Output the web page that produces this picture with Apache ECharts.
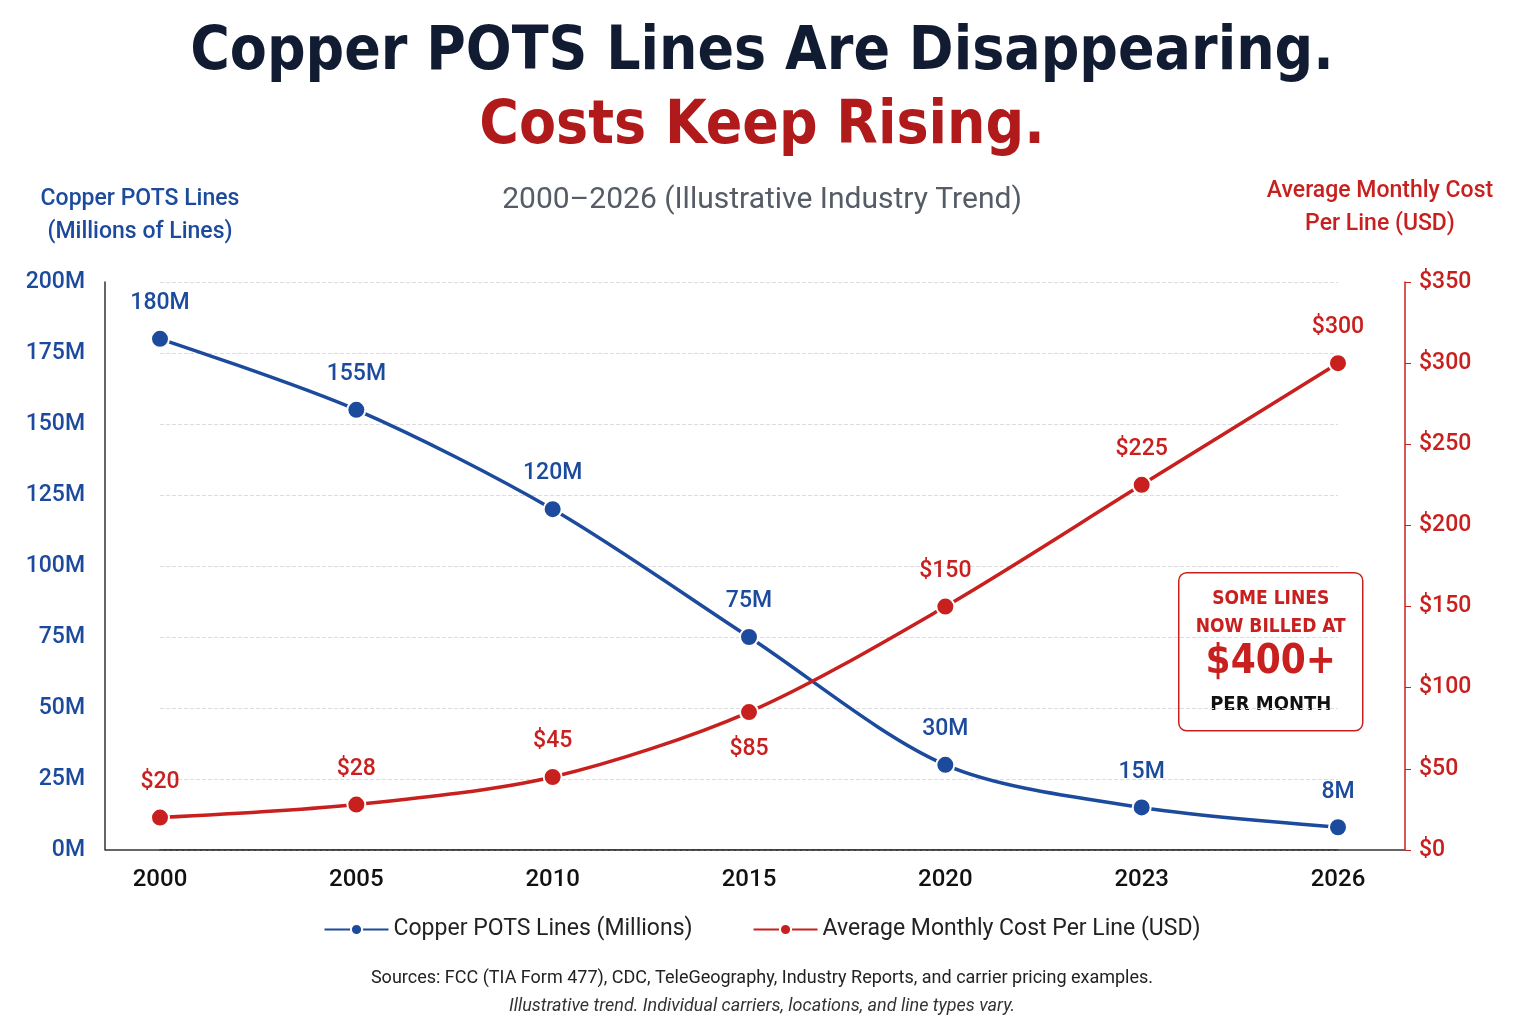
<!DOCTYPE html>
<html><head><meta charset="utf-8">
<script src="https://cdn.jsdelivr.net/npm/echarts@6/dist/echarts.min.js"></script>
<style>html,body{margin:0;background:#fff}#c{width:1524px;height:1028px}</style>
</head><body><div id="c"></div>
<script>
const years = ['2000','2005','2010','2015','2020','2023','2026'];
const linesM = [180,155,120,75,30,15,8];
const costUSD = [20,28,45,85,150,225,300];
const BLUE='#1c4a9c', RED='#c8201e';
const COND='"DejaVu Sans Condensed", "DejaVu Sans"';
const chart = echarts.init(document.getElementById('c'));
chart.setOption({
  backgroundColor:'#fff',
  animation:false,
  title:[
    {text:'Copper POTS Lines Are Disappearing.',left:'center',top:18,textStyle:{fontFamily:COND,fontWeight:'bold',fontSize:60,color:'#111c33'}},
    {text:'Costs Keep Rising.',left:'center',top:92,textStyle:{fontFamily:COND,fontWeight:'bold',fontSize:60,color:'#b01a1a'}},
    {text:'2000–2026 (Illustrative Industry Trend)',left:'center',top:180,textStyle:{fontFamily:'Roboto',fontWeight:'normal',fontSize:30,color:'#555c66'}},
    {text:'Copper POTS Lines\n(Millions of Lines)',left:135,top:178,textAlign:'center',textStyle:{fontFamily:'Roboto',fontWeight:'500',fontSize:23,lineHeight:33,color:BLUE}},
    {text:'Average Monthly Cost\nPer Line (USD)',left:1375,top:170,textAlign:'center',textStyle:{fontFamily:'Roboto',fontWeight:'500',fontSize:23,lineHeight:33,color:RED}},
    {text:'Sources: FCC (TIA Form 477), CDC, TeleGeography, Industry Reports, and carrier pricing examples.',left:'center',top:964,textStyle:{fontFamily:'Roboto',fontWeight:'normal',fontSize:18,color:'#222'}},
    {text:'Illustrative trend. Individual carriers, locations, and line types vary.',left:'center',top:992,textStyle:{fontFamily:'Roboto',fontWeight:'normal',fontStyle:'italic',fontSize:18,color:'#333'}}
  ],
  legend:{bottom:82,left:'center',itemGap:60,itemWidth:64,itemHeight:14,
    textStyle:{fontFamily:'Roboto',fontSize:23,color:'#222'},
    data:['Copper POTS Lines (Millions)','Average Monthly Cost Per Line (USD)']},
  grid:{left:160,right:186,top:282,bottom:178},
  xAxis:{type:'category',data:years,boundaryGap:false,
    axisLine:{lineStyle:{color:'#333',width:1.5}},axisTick:{show:false},
    axisLabel:{fontFamily:'Roboto',fontWeight:'500',fontSize:24,color:'#111',margin:18}},
  yAxis:[
    {type:'value',min:0,max:200,interval:25,offset:55,
     axisLine:{show:true,lineStyle:{color:'#333',width:1.5}},axisTick:{show:false},
     axisLabel:{formatter:'{value}M',fontFamily:'Roboto',fontWeight:'500',fontSize:23,color:BLUE,margin:20},
     splitLine:{lineStyle:{type:'dashed',color:'#ddd'}}},
    {type:'value',min:0,max:350,interval:50,position:'right',offset:67,
     axisLine:{show:true,lineStyle:{color:RED,width:1.5}},axisTick:{show:true,length:6,lineStyle:{color:RED}},
     axisLabel:{formatter:'${value}',fontFamily:'Roboto',fontWeight:'500',fontSize:23,color:RED,margin:14},
     splitLine:{show:false}}
  ],
  series:[
    {name:'Copper POTS Lines (Millions)',type:'line',smooth:0.3,yAxisIndex:0,data:linesM,
     symbol:'circle',symbolSize:18,lineStyle:{color:BLUE,width:3.5},itemStyle:{color:BLUE,borderColor:'#fff',borderWidth:2},
     label:{show:true,position:'top',distance:14,formatter:'{c}M',fontFamily:'Roboto',fontWeight:'500',fontSize:23,color:BLUE}},
    {name:'Average Monthly Cost Per Line (USD)',type:'line',smooth:0.3,yAxisIndex:1,
     data:costUSD.map((v,i)=>i===3?{value:v,label:{position:'bottom',distance:16}}:v),
     symbol:'circle',symbolSize:18,lineStyle:{color:RED,width:3.5},itemStyle:{color:RED,borderColor:'#fff',borderWidth:2},
     label:{show:true,position:'top',distance:14,formatter:'${c}',fontFamily:'Roboto',fontWeight:'500',fontSize:23,color:RED}}
  ],
  graphic:[
   {type:'line',shape:{x1:105,y1:850,x2:1405,y2:850},style:{stroke:'#333',lineWidth:1.5},z:0},
   {type:'group',left:1178,top:572,children:[
    {type:'rect',shape:{x:0,y:0,width:184,height:158,r:8},style:{fill:'#fff',stroke:RED,lineWidth:1.5}},
    {type:'text',x:92,y:12,style:{text:'SOME LINES\nNOW BILLED AT',textAlign:'center',fill:RED,font:'bold 19px "DejaVu Sans Condensed"',lineHeight:28}},
    {type:'text',x:92,y:70,style:{text:'$400+',textAlign:'center',fill:RED,font:'bold 40px "DejaVu Sans Condensed"'}},
    {type:'text',x:92,y:122,style:{text:'PER MONTH',textAlign:'center',fill:'#111',font:'bold 20px "DejaVu Sans Condensed"'}}
  ]}]
});
</script></body></html>
